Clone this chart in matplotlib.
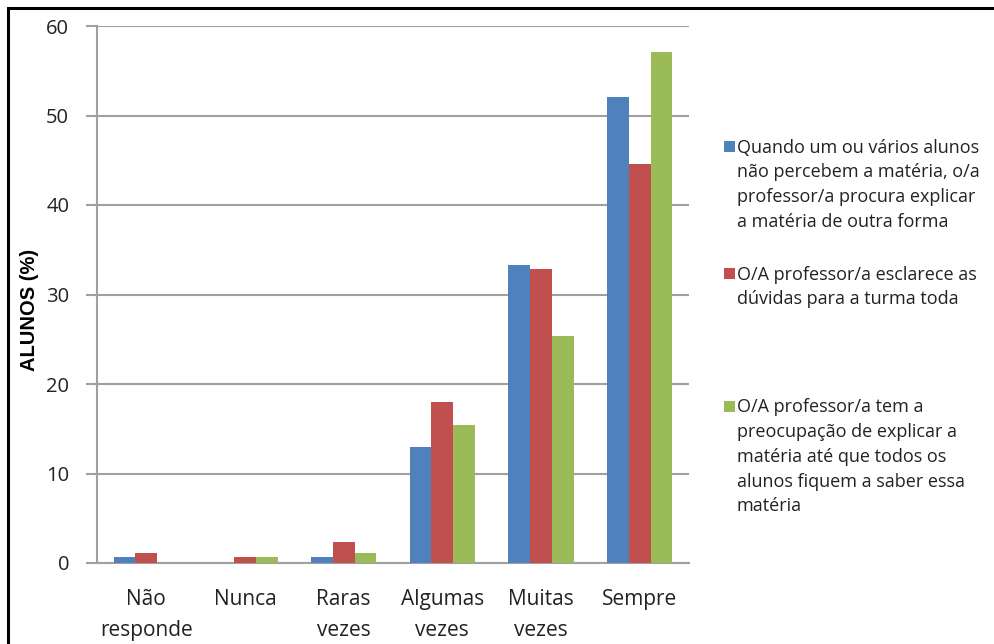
import matplotlib
matplotlib.use("Agg")
import matplotlib.pyplot as plt
import numpy as np
from matplotlib.patches import Rectangle

categories = ["Não\nresponde", "Nunca", "Raras\nvezes", "Algumas\nvezes", "Muitas\nvezes", "Sempre"]
series_labels = [
    "Quando um ou vários alunos\nnão percebem a matéria, o/a\nprofessor/a procura explicar\na matéria de outra forma",
    "O/A professor/a esclarece as\ndúvidas para a turma toda",
    "O/A professor/a tem a\npreocupação de explicar a\nmatéria até que todos os\nalunos fiquem a saber essa\nmatéria",
]
blue_vals = [0.7, 0.0, 0.7, 13.0, 33.3, 52.1]
red_vals = [1.1, 0.7, 2.4, 18.0, 32.9, 44.6]
green_vals = [0.0, 0.7, 1.1, 15.4, 25.4, 57.1]
yticks = [0, 10, 20, 30, 40, 50, 60]
colors = ["#4F81BD", "#C0504D", "#9BBB59"]

plt.rcParams['font.family'] = ['Open Sans', 'DejaVu Sans']

W, H = 994, 644
fig = plt.figure(figsize=(W / 100, H / 100), dpi=100)

# outer border
fig.patches.append(Rectangle((8 / W, -0.1), 1.2, 1 - 8 / H + 0.1, transform=fig.transFigure,
                             fill=False, edgecolor="black", linewidth=2.2))

ax = fig.add_axes([97 / W, 1 - 563 / H, (689 - 97) / W, (563 - 26) / H])
x = np.arange(len(categories))
bw = 0.22
for i, vals in enumerate([blue_vals, red_vals, green_vals]):
    ax.bar(x + (i - 1) * bw, vals, width=bw, color=colors[i], zorder=3)

ax.set_xlim(-0.5, len(categories) - 0.5)
ax.set_ylim(0, 60)
ax.set_yticks(yticks)
ax.set_yticklabels([str(v) for v in yticks], fontsize=14.5, color="#222222")
ax.set_xticks(x)
ax.set_xticklabels(categories, fontsize=15, linespacing=1.6, color="#222222")
ax.tick_params(axis='x', length=0, pad=19)
ax.tick_params(axis='y', length=8, color="#A0A0A0", width=1.5, pad=12)
ax.grid(axis='y', color="#A0A0A0", linewidth=1.5, zorder=0)
for s in ["top", "right"]:
    ax.spines[s].set_visible(False)
ax.spines["left"].set_color("#A0A0A0")
ax.spines["left"].set_linewidth(1.5)
ax.spines["bottom"].set_color("#A0A0A0")
ax.spines["bottom"].set_linewidth(1.5)
ax.set_ylabel("ALUNOS (%)", fontsize=14.5, fontweight="bold",
              family=["Liberation Sans", "DejaVu Sans"])
ax.yaxis.set_label_coords((39 - 97) / (689 - 97), (563 - 310) / (563 - 26))

# legend
leg_centers = [146, 273, 406]
for i, lab in enumerate(series_labels):
    yc = leg_centers[i]
    fig.patches.append(Rectangle((724 / W, 1 - (yc + 5.5) / H), 11 / W, 11 / H,
                                 transform=fig.transFigure, facecolor=colors[i], edgecolor="none"))
    fig.text(737 / W, 1 - (yc - 7.5) / H, lab, fontsize=13, va="top", ha="left",
             linespacing=1.48, color="#222222")

fig.savefig("out.png", dpi=100)
